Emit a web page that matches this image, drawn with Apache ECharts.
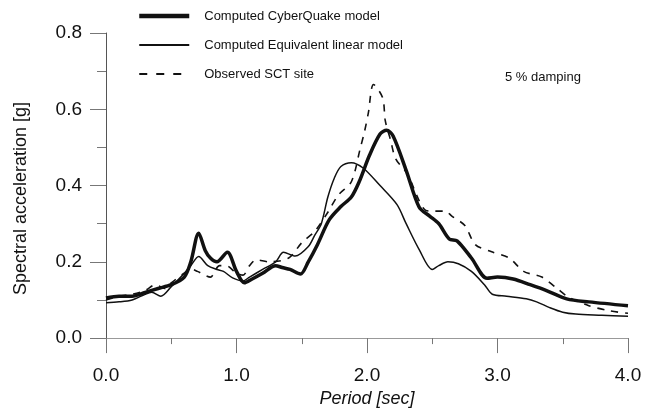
<!DOCTYPE html>
<html>
<head>
<meta charset="utf-8">
<script src="https://cdn.jsdelivr.net/npm/echarts@6/dist/echarts.min.js"></script>
<style>
  html, body { margin: 0; padding: 0; background: #fff; }
  #main { width: 645px; height: 413px; }
</style>
</head>
<body>
<div id="main"></div>
<script>
// periods [sec] and spectral acceleration [g]
var cyberPeriod = [0.0, 0.1, 0.2, 0.3, 0.4, 0.5, 0.6, 0.65, 0.71, 0.76, 0.8, 0.85, 0.93, 1.0, 1.06, 1.12, 1.2, 1.3, 1.35, 1.41, 1.49, 1.55, 1.62, 1.71, 1.8, 1.88, 1.94, 2.02, 2.1, 2.15, 2.2, 2.3, 2.4, 2.48, 2.55, 2.63, 2.69, 2.8, 2.92, 3.0, 3.12, 3.25, 3.38, 3.53, 3.7, 4.0];
var cyberAcc = [0.105, 0.11, 0.11, 0.12, 0.13, 0.14, 0.16, 0.2, 0.275, 0.23, 0.21, 0.2, 0.225, 0.175, 0.145, 0.155, 0.17, 0.19, 0.185, 0.18, 0.168, 0.2, 0.245, 0.31, 0.345, 0.37, 0.41, 0.48, 0.535, 0.545, 0.53, 0.44, 0.343, 0.32, 0.3, 0.26, 0.255, 0.21, 0.157, 0.16, 0.155, 0.14, 0.124, 0.103, 0.095, 0.085];

var eqlPeriod = [0.0, 0.1, 0.2, 0.3, 0.35, 0.42, 0.5, 0.6, 0.65, 0.71, 0.78, 0.85, 0.9, 0.97, 1.05, 1.1, 1.2, 1.3, 1.36, 1.45, 1.55, 1.6, 1.65, 1.7, 1.75, 1.8, 1.88, 1.97, 2.1, 2.23, 2.3, 2.4, 2.5, 2.55, 2.62, 2.7, 2.8, 2.9, 2.96, 3.07, 3.22, 3.3, 3.4, 3.5, 3.6, 3.8, 4.0];
var eqlAcc = [0.093, 0.095, 0.1, 0.115, 0.12, 0.11, 0.135, 0.17, 0.19, 0.214, 0.19, 0.18, 0.175, 0.158, 0.15, 0.16, 0.18, 0.2, 0.225, 0.215, 0.24, 0.27, 0.3, 0.37, 0.42, 0.45, 0.46, 0.446, 0.4, 0.35, 0.3, 0.232, 0.18, 0.19, 0.2, 0.195, 0.175, 0.14, 0.115, 0.11, 0.103, 0.095, 0.08, 0.068, 0.063, 0.06, 0.057];

var sctPeriod = [0.0, 0.1, 0.2, 0.3, 0.38, 0.45, 0.5, 0.6, 0.66, 0.7, 0.77, 0.8, 0.87, 0.92, 1.0, 1.05, 1.1, 1.15, 1.25, 1.4, 1.5, 1.6, 1.7, 1.78, 1.88, 1.95, 1.98, 2.01, 2.05, 2.12, 2.14, 2.18, 2.22, 2.31, 2.4, 2.45, 2.5, 2.6, 2.65, 2.75, 2.83, 2.95, 3.09, 3.2, 3.34, 3.45, 3.55, 3.7, 3.85, 4.0];
var sctAcc = [0.1, 0.11, 0.115, 0.125, 0.14, 0.13, 0.145, 0.17, 0.18, 0.175, 0.163, 0.16, 0.19, 0.19, 0.17, 0.165, 0.19, 0.205, 0.2, 0.21, 0.25, 0.28, 0.33, 0.375, 0.41, 0.5, 0.54, 0.59, 0.665, 0.63, 0.57, 0.52, 0.47, 0.43, 0.36, 0.335, 0.333, 0.333, 0.32, 0.295, 0.245, 0.227, 0.21, 0.175, 0.16, 0.132, 0.106, 0.085, 0.072, 0.065];

var xTicks = ['0.0', '1.0', '2.0', '3.0', '4.0'];
var yTicks = ['0.0', '0.2', '0.4', '0.6', '0.8'];

function pairs(xs, ys) {
  return xs.map(function (x, i) { return [x, ys[i]]; });
}

var font = 'Liberation Sans, Arial, sans-serif';
var chart = echarts.init(document.getElementById('main'));

var option = {
  animation: false,
  backgroundColor: '#fff',
  grid: { left: 106, right: 17, top: 33, bottom: 70 },
  legend: {
    orient: 'vertical',
    left: 137,
    top: 9,
    padding: 0,
    itemWidth: 50,
    itemHeight: 14,
    itemGap: 15,
    itemStyle: { opacity: 0 },
    textStyle: { fontFamily: font, fontSize: 13, lineHeight: 14, color: '#111', padding: [0, 0, 0, 10] },
    data: [
      { name: 'Computed CyberQuake model', lineStyle: { width: 4.5, color: '#111' } },
      { name: 'Computed Equivalent linear model', lineStyle: { width: 2, color: '#111' } },
      { name: 'Observed SCT site', lineStyle: { width: 2, color: '#111', type: [8, 9] } }
    ]
  },
  graphic: [{
    type: 'text',
    left: 505,
    top: 71,
    style: { text: '5 % damping', fontFamily: font, fontSize: 13, fill: '#111' }
  }],
  xAxis: {
    type: 'value',
    min: 0,
    max: 4,
    interval: 1,
    name: 'Period [sec]',
    nameLocation: 'middle',
    nameGap: 45,
    nameTextStyle: { fontFamily: font, fontSize: 18, fontStyle: 'italic', color: '#111' },
    axisLine: { onZero: false, lineStyle: { color: '#999', width: 1 } },
    axisTick: { inside: false, length: 15, lineStyle: { color: '#777' } },
    minorTick: { show: true, splitNumber: 2, length: 6, lineStyle: { color: '#777' } },
    splitLine: { show: false },
    axisLabel: {
      margin: 28,
      fontFamily: font,
      fontSize: 19,
      color: '#111',
      formatter: function (v) { return xTicks[Math.round(v)]; }
    }
  },
  yAxis: {
    type: 'value',
    min: 0,
    max: 0.8,
    interval: 0.2,
    name: 'Spectral acceleration [g]',
    nameLocation: 'middle',
    nameGap: 76,
    nameTextStyle: { fontFamily: font, fontSize: 18, color: '#111', padding: [0, 26, 0, 0] },
    axisLine: { show: true, lineStyle: { color: '#555', width: 1 } },
    axisTick: { inside: false, length: 16, lineStyle: { color: '#777' } },
    minorTick: { show: true, splitNumber: 2, length: 9, lineStyle: { color: '#777' } },
    splitLine: { show: false },
    axisLabel: {
      margin: 24,
      fontFamily: font,
      fontSize: 19,
      color: '#111',
      formatter: function (v) { return yTicks[Math.round(v * 5)]; }
    }
  },
  series: [
    {
      name: 'Computed CyberQuake model',
      type: 'line',
      data: pairs(cyberPeriod, cyberAcc),
      symbol: 'none',
      smooth: 0.3,
      z: 3,
      itemStyle: { color: '#111' },
      lineStyle: { color: '#111', width: 3.5 }
    },
    {
      name: 'Computed Equivalent linear model',
      type: 'line',
      data: pairs(eqlPeriod, eqlAcc),
      symbol: 'none',
      smooth: 0.3,
      itemStyle: { color: '#111' },
      lineStyle: { color: '#111', width: 1.5 }
    },
    {
      name: 'Observed SCT site',
      type: 'line',
      data: pairs(sctPeriod, sctAcc),
      symbol: 'none',
      smooth: 0.3,
      itemStyle: { color: '#111' },
      lineStyle: { color: '#111', width: 1.6, type: [7, 7] }
    }
  ]
};

chart.setOption(option);
</script>
</body>
</html>
